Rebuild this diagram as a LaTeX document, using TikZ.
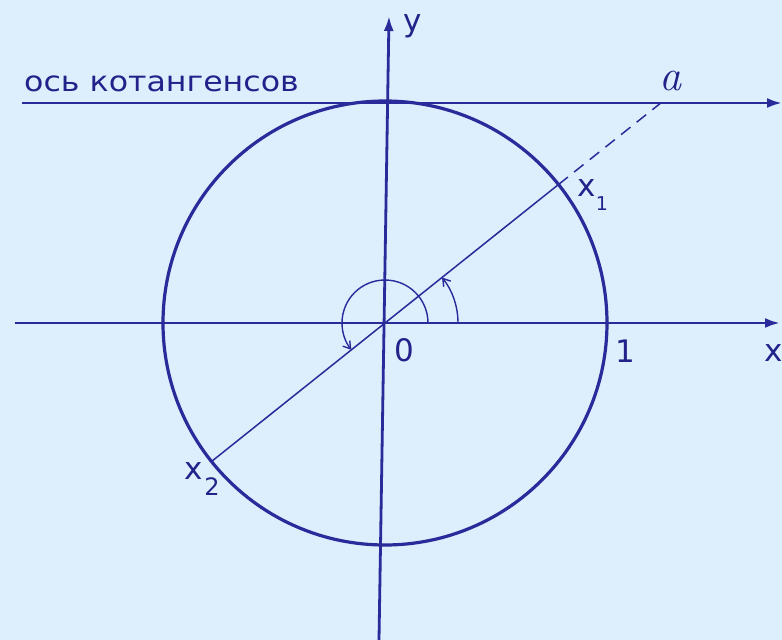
\documentclass[tikz,border=0pt]{standalone}
\usepackage{fontspec}
\setmainfont{DejaVu Sans}
\newfontfamily\serifit{Latin Modern Roman}
\usetikzlibrary{arrows.meta}
\definecolor{bgblue}{HTML}{DDEEFC}
\definecolor{ink}{HTML}{2A2A9A}
\definecolor{txt}{HTML}{22228A}
\begin{document}
\begin{tikzpicture}[x=1pt,y=1pt,
  axis/.style={draw=ink,line width=2.8pt,-{Latex[length=15pt,width=10pt]}},
  thin/.style={draw=ink,line width=1.5pt},
  anglearc/.style={draw=ink,line width=1.4pt,-{Straight Barb[length=7pt,width=9pt]}},
  lbl/.style={text=txt,font=\fontsize{31}{31}\selectfont,inner sep=0pt},
  sublbl/.style={text=txt,font=\fontsize{19}{19}\selectfont,inner sep=0pt}]
\fill[bgblue] (-385,-317) rectangle (397,323);
\clip (-385,-317) rectangle (397,323);
\useasboundingbox (-385,-317) rectangle (397,323);
\coordinate (O) at (0,0);
\coordinate (X1) at (173.5,138.5);
\coordinate (X2) at (-173.5,-138.5);
\coordinate (A) at (275.8,220);
\coordinate (xl) at (-370,0);
\coordinate (xr) at (395,0);
\coordinate (yb) at (-6,-317);
\coordinate (yt) at (4,307);
\coordinate (cl) at (-363,220);
\coordinate (cr) at (397,220);
% circle
\draw[ink,line width=3.2pt] (O) circle[radius=222];
% axes
\draw[axis] (xl) -- (xr);
\draw[axis] (yb) -- (yt);
\draw[axis] (cl) -- (cr);
% diameter and dashed extension
\draw[thin] (X2) -- (X1);
\draw[thin,dash pattern=on 12pt off 8pt] (X1) -- (A);
% angle arcs
\draw[anglearc] (73,0) arc[start angle=0,end angle=38.6,radius=73];
\draw[anglearc] (43,0) arc[start angle=0,end angle=218.6,radius=43];
% labels
\node[text=txt,inner sep=0pt,anchor=base west,xscale=1.13,font=\fontsize{28}{28}\selectfont] (cot) at (-361,231) {ось котангенсов};
\node[text=txt,inner sep=0pt,font=\fontsize{44}{44}\selectfont\serifit\itshape] (alab) at (285,242) {a};
\node[lbl] (zero) at (19,-27) {0};
\node[lbl] (one) at (240,-28) {1};
\node[lbl,anchor=base] (xlab) at (389,-38) {x};
\node[lbl,anchor=base] (ylab) at (28,291) {y};
\node[lbl,anchor=base] (x1) at (202,126) {x};
\node[sublbl,anchor=base] (x1s) at (217,112) {1};
\node[lbl,anchor=base] (x2) at (-191,-156) {x};
\node[text=txt,inner sep=0pt,font=\fontsize{24}{24}\selectfont,anchor=base] (x2s) at (-173,-172) {2};
\end{tikzpicture}
\end{document}
